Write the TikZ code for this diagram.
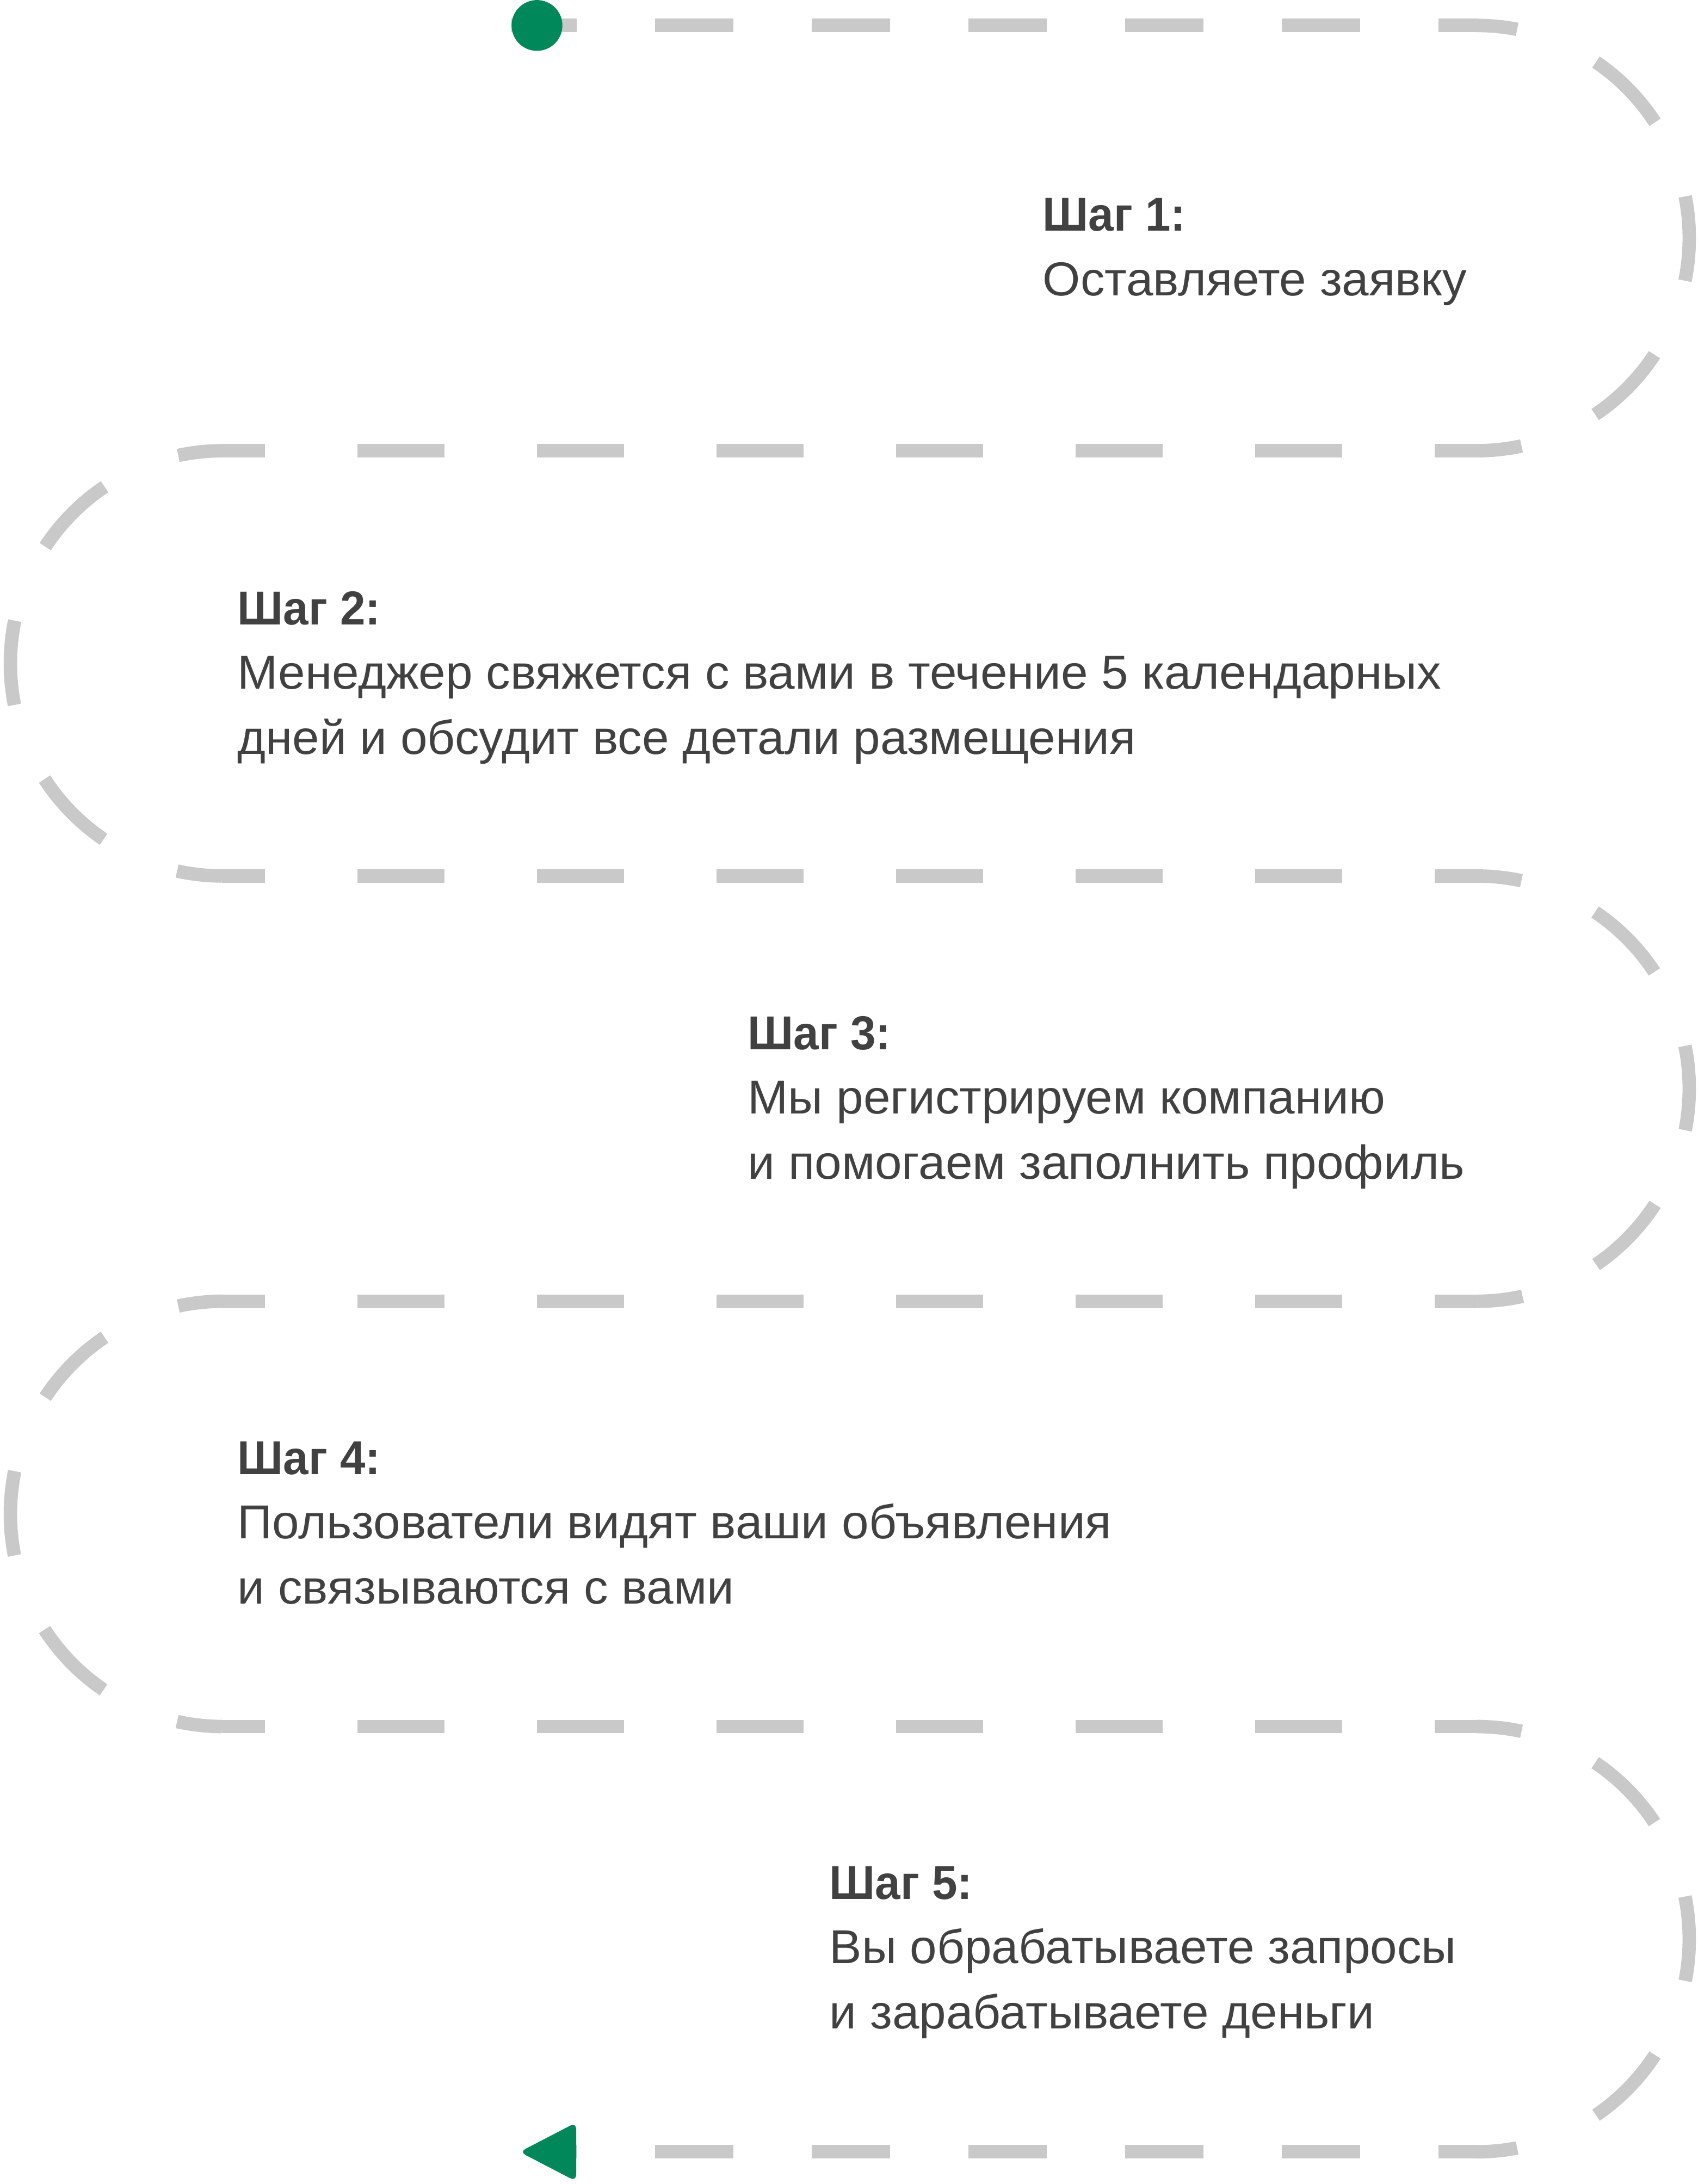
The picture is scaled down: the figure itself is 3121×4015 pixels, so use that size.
\documentclass[tikz,border=0pt]{standalone}
\usepackage{fontspec}
\setmainfont{Liberation Sans}[FakeStretch=1.018]
\newfontfamily\headfont{Liberation Sans Bold}[FakeStretch=0.955]

\definecolor{pathgray}{HTML}{C9C9C9}
\definecolor{stepgreen}{HTML}{00875A}
\definecolor{textgray}{HTML}{414141}

\tikzset{
  trackline/.style={pathgray, line width=2.47mm},
  linedash/.style={dash pattern=on 16mm off 17mm, dash phase=8.1mm},
  enddash/.style={dash pattern=on 14.4mm off 14.4mm},
  arcdash/.style={dash pattern=on 8.3mm off 14.8mm on 15.6mm off 14.8mm on 15.6mm off 14.8mm on 15.6mm off 14.8mm on 8.3mm off 100mm},
  firstarc/.style={dash pattern=on 7.5mm off 15.8mm on 15.6mm off 14.8mm on 15.6mm off 14.8mm on 15.6mm off 14.8mm on 8.3mm off 100mm},
  headtext/.style={anchor=base west, inner sep=0pt, text=textgray, font=\fontsize{24.9pt}{33.9pt}\headfont},
  bodytext/.style={anchor=base west, inner sep=0pt, align=left, text=textgray, font=\fontsize{24.9pt}{33.9pt}\selectfont}
}

\begin{document}
\begin{tikzpicture}[x=0.1mm, y=-0.1mm]
\useasboundingbox (0,0) rectangle (3121,4015);
\fill[white] (0,0) rectangle (3121,4015);

% turns
\draw[trackline, firstarc] (2714,46.8) arc[start angle=90, end angle=-90, radius=39.09mm];
\draw[trackline, arcdash] (2714,1610.4) arc[start angle=90, end angle=-90, radius=39.09mm];
\draw[trackline, firstarc] (2714,3955.8) arc[start angle=-90, end angle=90, radius=39.09mm];
\foreach \y in {828.6,2392.2}{
  \draw[trackline, arcdash] (410,\y) arc[start angle=90, end angle=270, radius=39.09mm];
}

% straight runs
\draw[trackline, enddash, dash phase=2.4mm] (940,46.8) -- (2716,46.8);
\draw[trackline, enddash, dash phase=7.4mm] (990,3955.8) -- (2716,3955.8);
\foreach \y in {828.6,1610.4,2392.2,3174}{
  \draw[trackline, linedash] (408,\y) -- (2716,\y);
}

% start and end marks
\fill[stepgreen] (987,46.8) circle[radius=4.67mm];
\fill[stepgreen, rounded corners=1.2mm] (1059,3902) -- (955,3956) -- (1059,4010) -- cycle;

% steps (body placed at its last baseline)
\foreach \n/\x/\yh/\yb/\txt in {
  1/1916/425/544/{Оставляете заявку},
  2/436/1148/1386/{Менеджер свяжется с вами в течение 5 календарных\\дней и обсудит все детали размещения},
  3/1374/1929/2167/{Мы регистрируем компанию\\и помогаем заполнить профиль},
  4/436/2710/2948/{Пользователи видят ваши объявления\\и связываются с вами},
  5/1524/3491/3729/{Вы обрабатываете запросы\\и зарабатываете деньги}}{
  \node[headtext] (head\n) at (\x,\yh) {Шаг \n:};
  \node[bodytext] (body\n) at (\x,\yb) {\txt};
}
\end{tikzpicture}
\end{document}
